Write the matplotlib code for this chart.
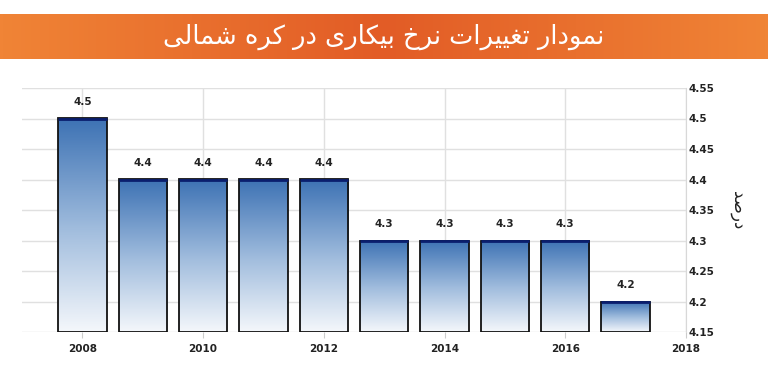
import matplotlib
matplotlib.use("Agg")
import matplotlib.pyplot as plt
import numpy as np
from matplotlib.colors import LinearSegmentedColormap

# data
years = [2008, 2009, 2010, 2011, 2012, 2013, 2014, 2015, 2016, 2017]
rates = [4.5, 4.4, 4.4, 4.4, 4.4, 4.3, 4.3, 4.3, 4.3, 4.2]
xticks = [2008, 2010, 2012, 2014, 2016, 2018]
yticks = [4.15, 4.2, 4.25, 4.3, 4.35, 4.4, 4.45, 4.5, 4.55]
title_fa = "نمودار تغییرات نرخ بیکاری در کره شمالی"
ylabel_fa = "درصد"

# small persian shaper: (isolated, final, initial, medial)
FORMS = {
    "ا": ("\uFE8D", "\uFE8E", None, None),
    "ب": ("\uFE8F", "\uFE90", "\uFE91", "\uFE92"),
    "ت": ("\uFE95", "\uFE96", "\uFE97", "\uFE98"),
    "خ": ("\uFEA5", "\uFEA6", "\uFEA7", "\uFEA8"),
    "د": ("\uFEA9", "\uFEAA", None, None),
    "ر": ("\uFEAD", "\uFEAE", None, None),
    "ش": ("\uFEB5", "\uFEB6", "\uFEB7", "\uFEB8"),
    "ص": ("\uFEB9", "\uFEBA", "\uFEBB", "\uFEBC"),
    "غ": ("\uFECD", "\uFECE", "\uFECF", "\uFED0"),
    "ل": ("\uFEDD", "\uFEDE", "\uFEDF", "\uFEE0"),
    "م": ("\uFEE1", "\uFEE2", "\uFEE3", "\uFEE4"),
    "ن": ("\uFEE5", "\uFEE6", "\uFEE7", "\uFEE8"),
    "ه": ("\uFEE9", "\uFEEA", "\uFEEB", "\uFEEC"),
    "و": ("\uFEED", "\uFEEE", None, None),
    "ی": ("\uFBFC", "\uFBFD", "\uFBFE", "\uFBFF"),
    "ک": ("\uFB8E", "\uFB8F", "\uFB90", "\uFB91"),
}


def shape(text):
    out = []
    for i, ch in enumerate(text):
        if ch not in FORMS:
            out.append(ch)
            continue
        prev = text[i - 1] if i > 0 else " "
        nxt = text[i + 1] if i + 1 < len(text) else " "
        join_prev = prev in FORMS and FORMS[prev][2] is not None
        join_next = nxt in FORMS and FORMS[ch][2] is not None
        iso, fin, ini, med = FORMS[ch]
        if join_prev and join_next:
            out.append(med)
        elif join_prev:
            out.append(fin)
        elif join_next:
            out.append(ini)
        else:
            out.append(iso)
    return "".join(out)[::-1]


fig = plt.figure(figsize=(7.68, 3.71), dpi=100)

# orange banner
bax = fig.add_axes([0, 0.841, 1, 0.121])
grad = np.abs(np.linspace(-1, 1, 256))[None, :]
orange = LinearSegmentedColormap.from_list("or", ["#e25c26", "#f08436"])
bax.imshow(grad, aspect="auto", cmap=orange, extent=[0, 1, 0, 1])
bax.text(0.5, 0.5, shape(title_fa), color="white", fontsize=18.5,
         ha="center", va="center", family="DejaVu Sans")
bax.set_axis_off()

ax = fig.add_axes([22 / 768, 39 / 371, 664 / 768, 244 / 371])

blues = LinearSegmentedColormap.from_list("bl", ["#f4f7fb", "#9dbadc", "#3d72b4"])
vgrad = np.linspace(0, 1, 128)[:, None]
width = 0.8
for x, v in zip(years, rates):
    ax.imshow(vgrad, aspect="auto", cmap=blues, origin="lower",
              extent=[x - width / 2, x + width / 2, 4.15, v], zorder=2)
ax.bar(years, np.array(rates) - 4.15, bottom=4.15, width=width,
       facecolor="none", edgecolor="#111111", linewidth=1.3, zorder=3)
ax.hlines(rates, np.array(years) - width / 2, np.array(years) + width / 2,
          color="#0a1e6e", linewidth=2, zorder=4)
for x, v in zip(years, rates):
    ax.annotate(f"{v}", (x, v), xytext=(0, 8), textcoords="offset points",
                ha="center", va="bottom", fontsize=7.5, fontweight="bold",
                color="#222222")

ax.set_xlim(2007, 2018)
ax.set_ylim(4.15, 4.55)
ax.set_xticks(xticks)
ax.set_xticklabels([str(t) for t in xticks], fontsize=7.5, fontweight="bold",
                   color="#222222")
ax.set_yticks(yticks)
ax.set_yticklabels([f"{t:g}" for t in yticks], fontsize=7.5, fontweight="bold",
                   color="#222222")
ax.yaxis.tick_right()
ax.tick_params(axis="y", length=0, pad=2)
ax.tick_params(axis="x", length=4, color="#cccccc", pad=5)
ax.grid(True, color="#e0e0e0", linewidth=1, zorder=0)
ax.set_axisbelow(True)
for s in ["top", "left", "bottom"]:
    ax.spines[s].set_visible(False)
ax.spines["right"].set_color("#d8d8d8")

fig.text(738 / 768, 1 - 210 / 371, shape(ylabel_fa), rotation=-90,
         fontsize=12, ha="center", va="center", color="#222222")

fig.savefig("out.png", dpi=100)
